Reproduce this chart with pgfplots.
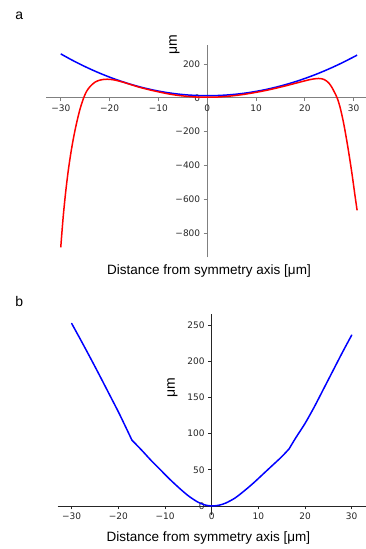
\documentclass[border=0pt]{standalone}
\usepackage{fontspec}
\setmainfont{Liberation Sans}
\newfontfamily\dejavu{DejaVu Sans}
\usepackage{pgfplots}
\pgfplotsset{compat=1.18}
\pgfplotsset{
  mystyle/.style={
    scale only axis, axis lines=middle, clip=false,
    tick align=outside, major tick length=3.5pt,
    hide obscured x ticks=false, hide obscured y ticks=false,
    tick label style={font=\dejavu\fontsize{9}{10}\selectfont, text=black!85},
    xtick={-30,-20,-10,0,10,20,30},
    xticklabels={−30,−20,−10,0,10,20,30},
  }
}
\begin{document}
\begin{tikzpicture}
\path[use as bounding box] (0,0) rectangle (366pt,549pt);
% ---------- panel a ----------
\begin{axis}[mystyle,
  at={(46.1pt,291.7pt)}, anchor=south west,
  width=319.8pt, height=212.3pt,
  xmin=-33, xmax=32.5, ymin=-944, ymax=312,
  axis line style={-, black!50, line width=0.8pt},
  tick style={black!50, line width=0.8pt},
  ytick={-800,-600,-400,-200,0,200},
  yticklabels={−800,−600,−400,−200,0,200},
]
\addplot[blue, line width=1.5pt, smooth] coordinates {
(-30,259.5) (-28,227.6) (-26,197.9) (-24,170.4) (-22,145.1) (-20,122) (-18,101.1)
(-16,82.4) (-14,65.9) (-12,51.6) (-10,39.5) (-8,29.6) (-6,21.9) (-4,16.4) (-2,13.1)
(0,12) (2,13) (4,16.1) (6,21.2) (8,28.3) (10,37.5) (12,48.7) (14,62) (16,77.3)
(18,94.6) (20,114) (22,135.4) (24,158.9) (26,184.4) (28,211.9) (30,241.5) (30.7,252)
};
\addplot[red, line width=1.5pt, smooth] coordinates {
(-30,-885) (-29.5,-705) (-29,-560) (-28.5,-440) (-28,-340) (-27.5,-255)
(-27,-182) (-26.5,-118) (-26,-62) (-25.3,0) (-24.7,38) (-24,66) (-23,92)
(-22,104) (-21,109) (-20,109) (-19,105) (-18,98) (-17,90) (-16,81) (-14,63)
(-12,48) (-10,35) (-8,23) (-6,14) (-4,8) (-2,4) (0,3) (2,4) (4,8) (6,14) (8,22)
(10,32) (12,43) (14,56) (16,70) (18,85) (20,100) (21,107) (22,112) (22.8,114)
(23.5,112) (24,107) (24.5,98) (25,84) (25.5,63) (26,36) (26.6,0)
(27.2,-55) (27.9,-145) (28.5,-240) (29.1,-345) (29.7,-460) (30.2,-565) (30.7,-666)
};
\end{axis}
% ---------- panel b ----------
\begin{axis}[mystyle,
  at={(57.7pt,33.9pt)}, anchor=south west,
  width=308pt, height=201pt,
  xmin=-33, xmax=33, ymin=-12.6, ymax=265,
  axis line style={-, black!85, line width=0.8pt},
  tick style={black!85, line width=0.8pt},
  ytick={0,50,100,150,200,250},
  yticklabels={0,50,100,150,200,250},
]
\addplot[blue, line width=1.5pt, smooth, line cap=round] coordinates {
(-30,252) (-28,228.5) (-26,204.5) (-24,180) (-22,155) (-20,130) (-18.5,110) (-17.1,91)
};
\addplot[blue, line width=1.5pt, smooth, line cap=round] coordinates {
(-17.1,91) (-15,77) (-13,63) (-11,50) (-9,37) (-7,25) (-5,14) (-3,5.5) (-1.5,1.5) (0,0)
(1.5,1) (3,4) (5,11) (7,21) (9,32) (11,44) (13,56) (15,68) (16.6,79)
};
\addplot[blue, line width=1.5pt, smooth, line cap=round] coordinates {
(16.6,79) (18,94) (20,114) (22,137) (24,162) (26,187) (28,212) (30,236)
};
\end{axis}
% ---------- labels ----------
\node[font=\fontsize{14}{16}\selectfont] at (19.3pt,533pt) {a};
\node[font=\fontsize{14}{16}\selectfont] at (19.3pt,247.3pt) {b};
\node[font=\fontsize{13.5}{16}\selectfont] at (209pt,278pt) {Distance from symmetry axis [μm]};
\node[font=\fontsize{13.5}{16}\selectfont] at (208.3pt,10.7pt) {Distance from symmetry axis [μm]};
\node[font=\fontsize{14}{16}\selectfont, rotate=90] at (174.5pt,504pt) {μm};
\node[font=\fontsize{14}{16}\selectfont, rotate=90] at (172.5pt,161pt) {μm};
\end{tikzpicture}
\end{document}
